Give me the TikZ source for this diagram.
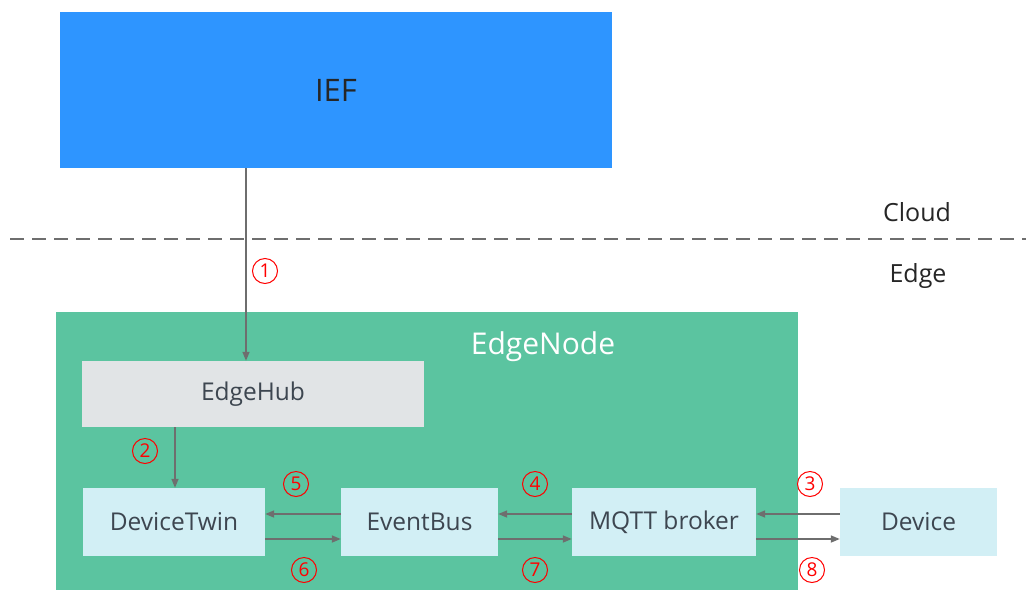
\documentclass[tikz,border=0pt]{standalone}
\usepackage{fontspec}
\setmainfont{Open Sans}
\usepackage{xcolor}
\definecolor{iefblue}{HTML}{2E95FF}
\definecolor{nodegreen}{HTML}{5BC4A0}
\definecolor{hubgray}{HTML}{E1E4E6}
\definecolor{modcyan}{HTML}{D2EFF5}
\definecolor{txtgray}{HTML}{3D4650}
\definecolor{arrgray}{HTML}{6E6E6E}
\usetikzlibrary{arrows.meta}

\tikzset{
  module/.style={fill=modcyan, inner sep=0pt, minimum height=68pt, text=txtgray, font=\fontsize{24.5}{26}\selectfont},
  flow/.style={draw=arrgray, line width=1.6pt, -{Triangle[length=9pt,width=7pt]}},
  stepnum/.style={circle, draw=red, line width=1pt, minimum size=25pt, inner sep=0pt,
                  text=red, font=\fontsize{19}{20}\selectfont}
}

\begin{document}
\begin{tikzpicture}[x=1pt,y=-1pt]
      \useasboundingbox (0,0) rectangle (1026,590);
      \fill[white] (0,0) rectangle (1026,590);
      % cloud side
      \node[fill=iefblue, minimum width=552pt, minimum height=156pt, inner sep=0pt,
            font=\fontsize{31}{34}\selectfont, text=black!85] (ief) at (336,90) {IEF};
      \draw[dashed, dash pattern=on 14pt off 8pt, line width=1.2pt, arrgray] (10,239) -- (1026,239);
      \node[text=black!85, font=\fontsize{25}{27}\selectfont] (cloud) at (917,212) {Cloud};
      \node[text=black!85, font=\fontsize{25}{27}\selectfont] (edge) at (918,276) {Edge};
      % edge node
      \fill[nodegreen] (56,312) rectangle (798,590);
      \node[text=white, font=\fontsize{30}{32}\selectfont] (edgenode) at (543,347) {EdgeNode};
      \node[fill=hubgray, minimum width=342pt, minimum height=66pt, inner sep=0pt,
            text=txtgray, font=\fontsize{24.5}{26}\selectfont] (hub) at (253,394) {EdgeHub};
      \node[module, minimum width=182pt] (twin) at (174,522) {DeviceTwin};
      \node[module, minimum width=157pt] (bus) at (419.5,522) {EventBus};
      \node[module, minimum width=184pt] (mqtt) at (664,522) {MQTT broker};
      \node[module, minimum width=157pt] (dev) at (918.5,522) {Device};
      % connectors
      \draw[flow] (ief.south -| 246,0) -- (hub.north -| 246,0);
      \draw[flow] (hub.south -| 175,0) -- (twin.north -| 175,0);
      \draw[flow] ([yshift=8pt]bus.west) -- ([yshift=8pt]twin.east);
      \draw[flow] ([yshift=8pt]mqtt.west) -- ([yshift=8pt]bus.east);
      \draw[flow] ([yshift=8pt]dev.west) -- ([yshift=8pt]mqtt.east);
      \draw[flow] ([yshift=-17pt]twin.east) -- ([yshift=-17pt]bus.west);
      \draw[flow] ([yshift=-17pt]bus.east) -- ([yshift=-17pt]mqtt.west);
      \draw[flow] ([yshift=-17pt]mqtt.east) -- ([yshift=-17pt]dev.west);
      % step numbers
      \node[stepnum] (s1) at (265,271) {1};
      \node[stepnum] (s2) at (145,451) {2};
      \node[stepnum] (s3) at (810,484) {3};
      \node[stepnum] (s4) at (535,484) {4};
      \node[stepnum] (s5) at (296,484) {5};
      \node[stepnum] (s6) at (304,570) {6};
      \node[stepnum] (s7) at (535,570) {7};
      \node[stepnum] (s8) at (812,570) {8};
\end{tikzpicture}
\end{document}
